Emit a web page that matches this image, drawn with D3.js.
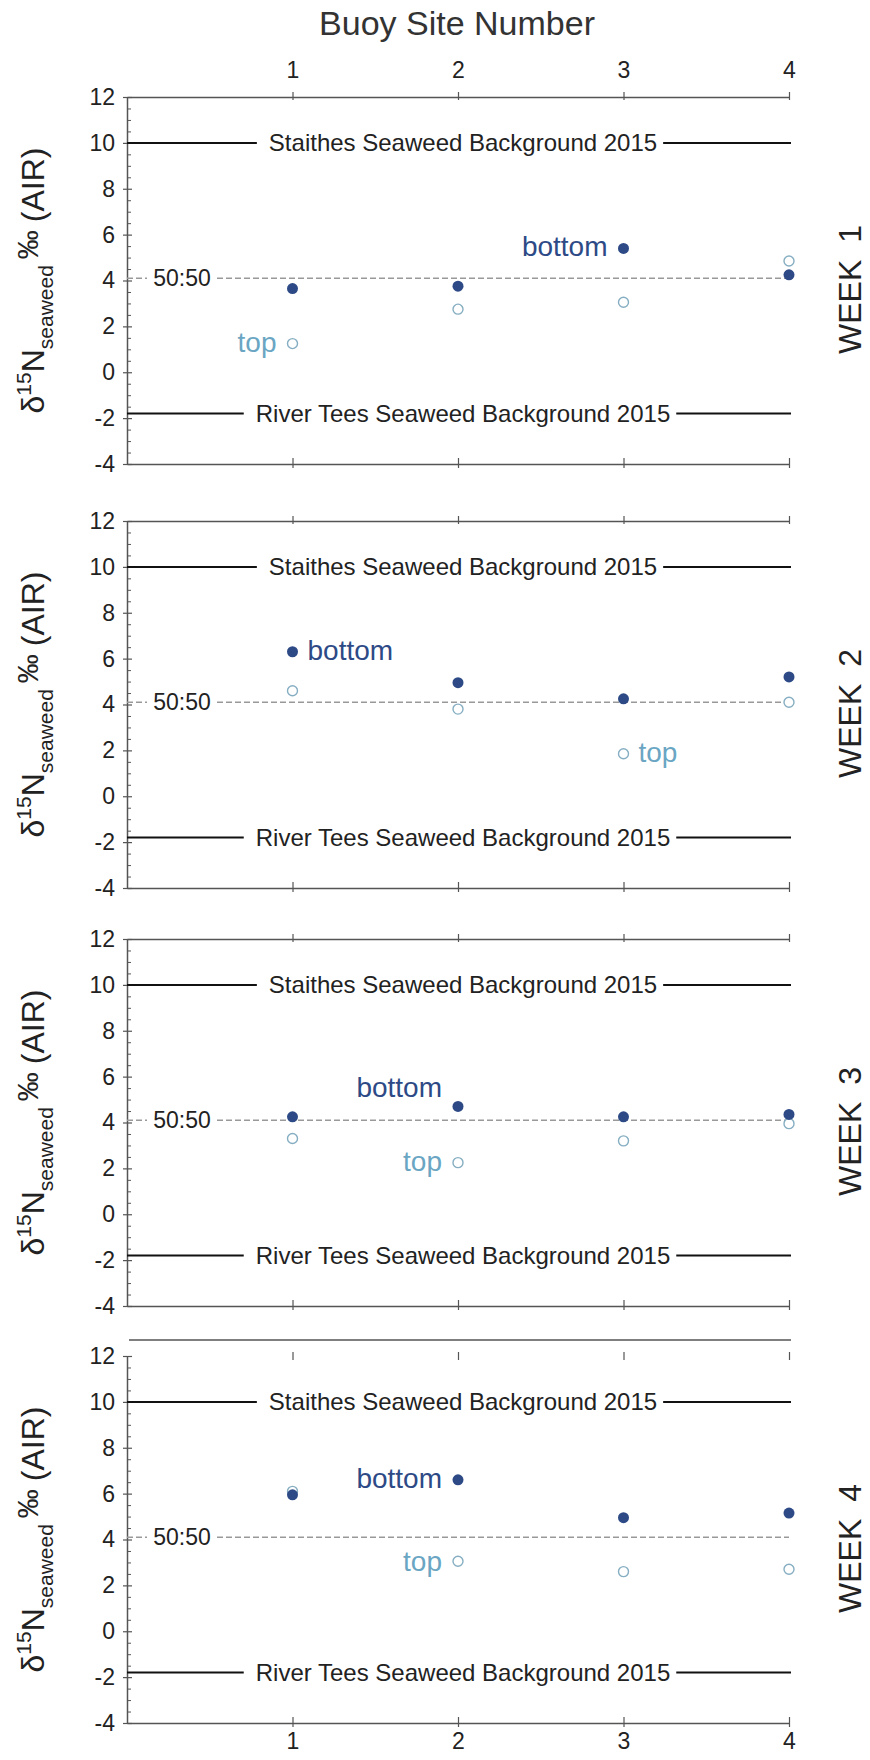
<!DOCTYPE html>
<html>
<head>
<meta charset="utf-8">
<script src="https://cdn.jsdelivr.net/npm/d3@7"></script>
<style>
  body { margin: 0; background: #fff; }
  svg { display: block; font-family: "Liberation Sans", Arial, Helvetica, sans-serif; }
</style>
</head>
<body>
<div id="chart" style="width:870px;height:1760px"></div>
<script>
// Buoy sites and weeks
const sites = [1, 2, 3, 4];
const weeks = ["1", "2", "3", "4"];
const yTicks = [-4, -2, 0, 2, 4, 6, 8, 10, 12];

// d15N of seaweed, one row per week, one value per buoy site
const bottomValues = [
    [3.65, 3.75, 5.4, 4.25],
    [6.3, 4.95, 4.25, 5.2],
    [4.25, 4.7, 4.25, 4.35],
    [5.95, 6.6, 4.95, 5.15]
];
const topValues = [
    [1.25, 2.75, 3.05, 4.85],
    [4.6, 3.8, 1.85, 4.1],
    [3.3, 2.25, 3.2, 3.95],
    [6.1, 3.05, 2.6, 2.7]
];

// reference levels
const staithesLevel = 10;
const teesLevel = -1.8;
const mixLevel = 4.1;

// where the "top"/"bottom" words sit (layout only)
const labelLayout = [
    [{ series: "top", site: 1, side: "left", dy: 8 }, { series: "bottom", site: 3, side: "left", dy: 8 }],
    [{ series: "bottom", site: 1, side: "right", dy: 8 }, { series: "top", site: 3, side: "right", dy: 8 }],
    [{ series: "bottom", site: 2, side: "left", dy: -9 }, { series: "top", site: 2, side: "left", dy: 8 }],
    [{ series: "bottom", site: 2, side: "left", dy: 8 }, { series: "top", site: 2, side: "left", dy: 10 }]
];

const darkBlue = "#2d4a86";
const lightBlue = "#6aa6c3";
const axisColor = "#555";

function createChart(containerSelector) {
    const width = 870, height = 1760;
    const panelTops = [97, 521, 939, 1356];
    const panelHeight = 367;

    d3.select(containerSelector).select("svg").remove();

    const svg = d3.select(containerSelector)
        .append("svg")
        .attr("width", width)
        .attr("height", height);

    // shared x scale for buoy sites
    const x = d3.scaleLinear()
        .domain([0, 4])
        .range([127, 789]);

    // title
    svg.append("text")
        .attr("x", 457)
        .attr("y", 35)
        .attr("text-anchor", "middle")
        .attr("font-size", "34px")
        .attr("fill", "#333")
        .text("Buoy Site Number");

    weeks.forEach((week, i) => {
        const top = panelTops[i];
        const y = d3.scaleLinear()
            .domain([-4, 12])
            .range([top + panelHeight, top]);
        const g = svg.append("g");
        const mid = top + panelHeight / 2;

        // Y axis with crossing major ticks
        const yAxis = g.append("g")
            .attr("transform", `translate(${x(0)},0)`)
            .call(d3.axisLeft(y)
                .tickValues(yTicks)
                .tickSize(4)
                .tickSizeOuter(0)
                .tickPadding(8)
                .tickFormat(d => String(d)));
        yAxis.select(".domain").attr("stroke", axisColor).attr("stroke-width", 1.5);
        yAxis.selectAll(".tick line").attr("x1", 5).attr("x2", -4)
            .attr("stroke", axisColor).attr("stroke-width", 1.2);
        yAxis.selectAll(".tick text")
            .attr("font-size", "23px")
            .attr("font-family", "Liberation Sans, Arial, sans-serif")
            .attr("fill", "#222");

        // minor ticks every 0.5 on the inside
        const minor = d3.range(-4, 12.01, 0.5).filter(v => v % 2 !== 0);
        const yMinor = g.append("g")
            .attr("transform", `translate(${x(0)},0)`)
            .call(d3.axisRight(y).tickValues(minor).tickSize(4).tickFormat(""));
        yMinor.select(".domain").remove();
        yMinor.selectAll(".tick line").attr("stroke", axisColor).attr("stroke-width", 1);

        // top X axis
        const xTop = g.append("g")
            .attr("transform", `translate(0,${top})`)
            .call(d3.axisTop(x)
                .tickValues(sites)
                .tickSize(5)
                .tickSizeOuter(0)
                .tickPadding(14)
                .tickFormat(i === 0 ? d => String(d) : ""));
        xTop.selectAll(".tick line").attr("y1", 3).attr("y2", -5)
            .attr("stroke", axisColor).attr("stroke-width", 1.2);
        xTop.selectAll(".tick text")
            .attr("font-size", "23px")
            .attr("font-family", "Liberation Sans, Arial, sans-serif")
            .attr("fill", "#222");
        if (i === 3) {
            // last panel: frame line sits detached above the ticks
            xTop.select(".domain").remove();
            xTop.selectAll(".tick line").attr("y1", 4).attr("y2", -4);
            g.append("line")
                .attr("x1", x(0) + 2)
                .attr("x2", x(4) + 2)
                .attr("y1", top - 16)
                .attr("y2", top - 16)
                .attr("stroke", axisColor)
                .attr("stroke-width", 1.5);
        } else {
            xTop.select(".domain").attr("stroke", axisColor).attr("stroke-width", 1.5);
        }

        // bottom X axis
        const xBottom = g.append("g")
            .attr("transform", `translate(0,${top + panelHeight})`)
            .call(d3.axisBottom(x)
                .tickValues(sites)
                .tickSize(4)
                .tickSizeOuter(0)
                .tickPadding(6)
                .tickFormat(i === 3 ? d => String(d) : ""));
        xBottom.select(".domain").attr("stroke", axisColor).attr("stroke-width", 1.5);
        xBottom.selectAll(".tick line").attr("y1", -6).attr("y2", 4)
            .attr("stroke", axisColor).attr("stroke-width", 1.2);
        xBottom.selectAll(".tick text")
            .attr("font-size", "23px")
            .attr("font-family", "Liberation Sans, Arial, sans-serif")
            .attr("fill", "#222");

        // background reference lines with label in the middle
        [
            { v: staithesLevel, text: "Staithes Seaweed Background 2015" },
            { v: teesLevel, text: "River Tees Seaweed Background 2015" }
        ].forEach(ref => {
            g.append("line")
                .attr("x1", x(0))
                .attr("x2", x(4) + 2)
                .attr("y1", y(ref.v))
                .attr("y2", y(ref.v))
                .attr("stroke", "#111")
                .attr("stroke-width", 2);
            const bg = g.append("rect").attr("fill", "#fff");
            const t = g.append("text")
                .attr("x", (x(0) + x(4)) / 2 + 5)
                .attr("y", y(ref.v) + 8)
                .attr("text-anchor", "middle")
                .attr("font-size", "24px")
                .attr("fill", "#222")
                .text(ref.text);
            const bb = t.node().getBBox();
            bg.attr("x", bb.x - 12).attr("y", bb.y)
                .attr("width", bb.width + 18).attr("height", bb.height);
        });

        // 50:50 mixing line
        g.append("line")
            .attr("x1", x(0))
            .attr("x2", x(4))
            .attr("y1", y(mixLevel))
            .attr("y2", y(mixLevel))
            .attr("stroke", "#999")
            .attr("stroke-width", 1.6)
            .attr("stroke-dasharray", "6,3");
        g.append("rect")
            .attr("x", x(0) + 20)
            .attr("y", y(mixLevel) - 12)
            .attr("width", 70)
            .attr("height", 24)
            .attr("fill", "#fff");
        g.append("text")
            .attr("x", x(0) + 55)
            .attr("y", y(mixLevel) + 8)
            .attr("text-anchor", "middle")
            .attr("font-size", "23px")
            .attr("fill", "#222")
            .text("50:50");

        // open circles: top
        g.selectAll(".top-pt")
            .data(sites.map((s, k) => ({ site: s, v: topValues[i][k] })))
            .enter()
            .append("circle")
            .attr("class", "top-pt")
            .attr("cx", d => x(d.site))
            .attr("cy", d => y(d.v))
            .attr("r", 5)
            .attr("fill", "#fff")
            .attr("stroke", "#86aec2")
            .attr("stroke-width", 1.4);

        // filled circles: bottom
        g.selectAll(".bottom-pt")
            .data(sites.map((s, k) => ({ site: s, v: bottomValues[i][k] })))
            .enter()
            .append("circle")
            .attr("class", "bottom-pt")
            .attr("cx", d => x(d.site))
            .attr("cy", d => y(d.v))
            .attr("r", 5.5)
            .attr("fill", darkBlue);

        // series words next to one point
        labelLayout[i].forEach(l => {
            const vals = l.series === "top" ? topValues[i] : bottomValues[i];
            const k = sites.indexOf(l.site);
            g.append("text")
                .attr("x", x(l.site) + (l.side === "left" ? -16 : 15))
                .attr("y", y(vals[k]) + l.dy)
                .attr("text-anchor", l.side === "left" ? "end" : "start")
                .attr("font-size", "28px")
                .attr("fill", l.series === "top" ? lightBlue : darkBlue)
                .text(l.series);
        });

        // Y axis title
        const yt = g.append("text")
            .attr("transform", `translate(44,${mid}) rotate(-90)`)
            .attr("text-anchor", "middle")
            .attr("font-size", "32px")
            .attr("fill", "#222");
        yt.append("tspan").text("\u03b4");
        yt.append("tspan").attr("font-size", "21px").attr("dy", -13).text("15");
        yt.append("tspan").attr("dy", 13).text("N");
        yt.append("tspan").attr("font-size", "21px").attr("dy", 9).text("seaweed");
        yt.append("tspan").attr("font-size", "29px").attr("dy", -15).attr("dx", 6).text("\u2030");
        yt.append("tspan").attr("dy", 6).attr("dx", 8).text("(AIR)");

        // week label on the right
        g.append("text")
            .attr("transform", `translate(861,${mid + 9}) rotate(-90)`)
            .attr("text-anchor", "middle")
            .attr("font-size", "32px")
            .attr("fill", "#222")
            .attr("word-spacing", "8")
            .text("WEEK " + week);
    });
}

createChart("#chart");
</script>
</body>
</html>
